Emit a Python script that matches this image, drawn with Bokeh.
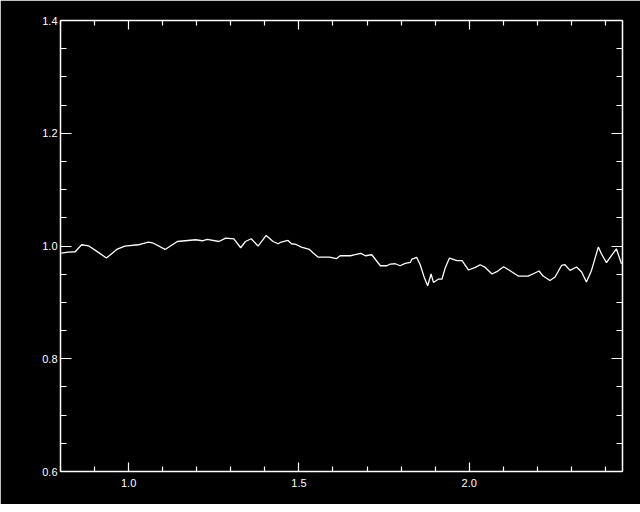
from bokeh.plotting import figure
from bokeh.models import LinearAxis, FixedTicker, Range1d, PrintfTickFormatter, CustomLabelingPolicy
from bokeh.embed import file_html
from bokeh.resources import INLINE

wavelength = [0.8025, 0.823, 0.843, 0.862, 0.882, 0.908, 0.935, 0.965, 0.989, 1.028,
              1.058, 1.070, 1.107, 1.143, 1.197, 1.216, 1.231, 1.265, 1.285, 1.309,
              1.329, 1.343, 1.360, 1.380, 1.404, 1.424, 1.439, 1.448, 1.468, 1.478,
              1.492, 1.507, 1.531, 1.541, 1.556, 1.590, 1.610, 1.621, 1.651, 1.665,
              1.682, 1.695, 1.714, 1.739, 1.758, 1.768, 1.783, 1.797, 1.812, 1.827,
              1.832, 1.846, 1.856, 1.868, 1.878, 1.888, 1.895, 1.910, 1.920, 1.930,
              1.942, 1.964, 1.979, 1.998, 2.018, 2.032, 2.047, 2.067, 2.081, 2.101,
              2.120, 2.145, 2.173, 2.188, 2.205, 2.217, 2.237, 2.252, 2.271, 2.281,
              2.296, 2.315, 2.330, 2.344, 2.359, 2.379, 2.388, 2.403, 2.418, 2.432,
              2.442, 2.447]
ratio = [0.9875, 0.9893, 0.9898, 1.0022, 1.0004, 0.990, 0.9786, 0.9939, 0.9999, 1.0022,
         1.0070, 1.0057, 0.9939, 1.0080, 1.0111, 1.0093, 1.0119, 1.0080, 1.0141, 1.0128,
         0.9969, 1.0080, 1.0128, 0.9999, 1.0187, 1.0080, 1.0040, 1.0070, 1.0098, 1.0040,
         1.0027, 0.9981, 0.9939, 0.9880, 0.9804, 0.9804, 0.9774, 0.9827, 0.9827, 0.9845,
         0.9868, 0.9827, 0.9845, 0.9650, 0.9650, 0.9680, 0.9685, 0.9650, 0.9691, 0.9708,
         0.9769, 0.9797, 0.9668, 0.9443, 0.9295, 0.9503, 0.9354, 0.9414, 0.9414, 0.9620,
         0.9786, 0.9739, 0.9739, 0.9574, 0.9620, 0.9668, 0.9620, 0.9503, 0.9544, 0.9633,
         0.9561, 0.9464, 0.9467, 0.9508, 0.9556, 0.9467, 0.9389, 0.9450, 0.9655, 0.9668,
         0.9567, 0.9627, 0.9538, 0.9361, 0.9567, 0.9981, 0.9862, 0.9703, 0.9833, 0.9951,
         0.9774, 0.9685]

x_major = [1.0, 1.5, 2.0]
x_minor = [0.8, 0.9, 1.1, 1.2, 1.3, 1.4, 1.6, 1.7, 1.8, 1.9, 2.1, 2.2, 2.3, 2.4]
y_major = [0.6, 0.8, 1.0, 1.2, 1.4]
y_minor = [0.65, 0.7, 0.75, 0.85, 0.9, 0.95, 1.05, 1.1, 1.15, 1.25, 1.3, 1.35]

p = figure(frame_width=562, frame_height=451, output_backend="svg", toolbar_location=None,
           x_axis_location=None, y_axis_location=None,
           x_range=Range1d(0.8, 2.45), y_range=Range1d(0.6, 1.4),
           min_border_left=60, min_border_top=20, min_border_right=8, min_border_bottom=33,
           background_fill_color="black", border_fill_color="black")
p.outline_line_color = None
p.grid.visible = False

FONT = "Liberation Sans"

def make_axis(ticks, minor, major_len, minor_len, labels, standoff):
    ax = LinearAxis(ticker=FixedTicker(ticks=ticks, minor_ticks=minor),
                    formatter=PrintfTickFormatter(format="%.1f"))
    ax.axis_line_color = "white"
    ax.axis_line_width = 1.5
    ax.major_tick_line_color = "white"
    ax.minor_tick_line_color = "white"
    ax.major_tick_line_width = 1.2
    ax.minor_tick_line_width = 1.2
    ax.major_tick_in = major_len
    ax.major_tick_out = 0
    ax.minor_tick_in = minor_len
    ax.minor_tick_out = 0
    ax.major_label_standoff = standoff
    ax.major_label_text_font = FONT
    ax.major_label_text_color = "white"
    ax.major_label_text_font_size = "11px"
    if not labels:
        ax.major_label_policy = CustomLabelingPolicy(code="if (false) { yield 0 }")
        ax.major_label_standoff = 0
    return ax

p.add_layout(make_axis(x_major, x_minor, 9, 5, True, 7), "below")
p.add_layout(make_axis(x_major, x_minor, 9, 5, False, 0), "above")
p.add_layout(make_axis(y_major, y_minor, 11, 6, True, 3), "left")
p.add_layout(make_axis(y_major, y_minor, 11, 6, False, 0), "right")

p.line(wavelength, ratio, line_color="white", line_width=1.3)

open("out.html", "w").write(file_html(p, INLINE))
